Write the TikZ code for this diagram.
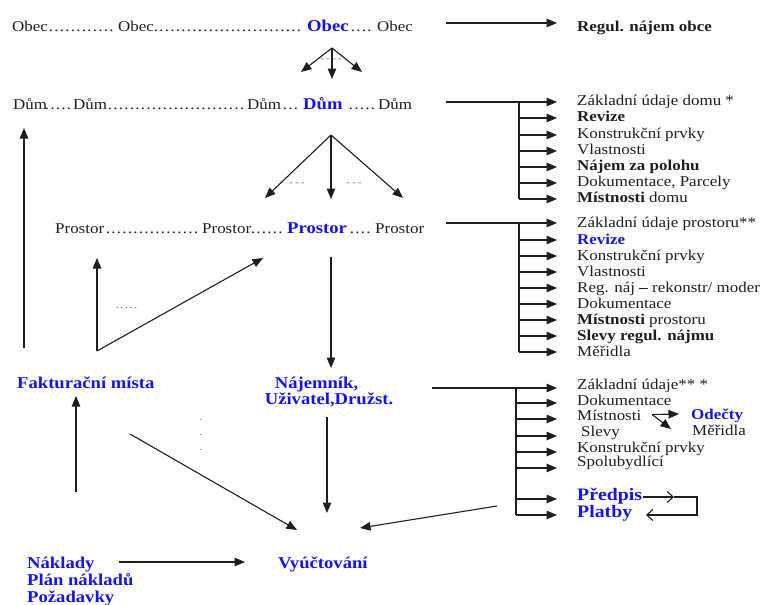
\documentclass[tikz,border=0pt]{standalone}
\usepackage{fontspec}
\setmainfont{Liberation Serif}[FakeStretch=1.13]
\usetikzlibrary{arrows.meta}
\definecolor{hlblue}{RGB}{20,20,240}
\definecolor{ink}{RGB}{30,30,30}
% a run of leader dots of a given width
\newcommand\dotrun[2][5.5pt]{\makebox[#2][l]{\leaders\hbox to #1{\hss.\hss}\hfill}}
\begin{document}
\begin{tikzpicture}[x=1pt,y=-1pt,
  lbl/.style={inner sep=0pt, anchor=base west, text=ink, font=\fontsize{15}{16}\selectfont},
  blbl/.style={lbl, font=\fontsize{15}{16}\selectfont\bfseries},
  key/.style={inner sep=0pt, anchor=base west, text=hlblue, font=\fontsize{16.5}{18}\selectfont\bfseries},
  bigkey/.style={key, font=\fontsize{17.5}{19}\selectfont\bfseries},
  smallkey/.style={key, font=\fontsize{15}{16}\selectfont\bfseries},
  tiny/.style={inner sep=0pt, text=ink!70, font=\fontsize{9}{9}\selectfont},
  link/.style={line width=1.1pt, draw=ink},
  arr/.style={link, -{Triangle[length=10.5pt,width=8.5pt]}},
  barb/.style={link, -{Straight Barb[length=6pt,width=11pt]}},
]
\useasboundingbox (0,0) rectangle (764,605);

% ---------- row: Obec ----------
\node[lbl] (o1) at (12,31) {Obec};
\node[lbl] (o1d) at (48,31) {\dotrun{70pt}};
\node[lbl] (o2) at (118,31) {Obec};
\node[lbl] (o2d) at (153,31) {\dotrun{153pt}};
\node[key] (o3) at (307,31) {Obec};
\node[lbl] (o3d) at (350,31) {\dotrun{24pt}};
\node[lbl] (o4) at (377,31) {Obec};
\node[blbl] (regul) at (577,31) {Regul. nájem obce};
\coordinate (r0) at (446,23);
\coordinate (r1) at (557,23);
\draw[arr] (r0) -- (r1);

% fan from Obec down to Dům
\coordinate (ofan) at (332,48);
\coordinate (ofl) at (301,72);
\coordinate (ofm) at (332,79);
\coordinate (ofr) at (362,72);
\draw[arr] (ofan) -- (ofl);
\draw[arr] (ofan) -- (ofm);
\draw[arr] (ofan) -- (ofr);
\node[tiny] (ofdash) at (331,60) {- - - -};

% ---------- row: Dům ----------
\node[lbl] (d1) at (13,109) {Dům};
\node[lbl] (d1d) at (44,109) {\dotrun{28pt}};
\node[lbl] (d2) at (73,109) {Dům};
\node[lbl] (d2d) at (107,109) {\dotrun{139pt}};
\node[lbl] (d3) at (247,109) {Dům};
\node[lbl] (d3d) at (282,109) {\dotrun{21pt}};
\node[key] (d4) at (303,109) {Dům};
\node[lbl] (d4d) at (348,109) {\dotrun{29pt}};
\node[lbl] (d5) at (378,109) {Dům};

% house attributes
\coordinate (h0) at (446,102);
\coordinate (hb) at (519,102);
\coordinate (hbe) at (519,199);
\draw[link] (hb) -- (hbe);
\draw[arr] (h0) -- (557,102);
\foreach \yy in {118,135,151,167,183,199}
  \draw[arr] (519,\yy) -- (557,\yy);
\node[lbl]  (h1) at (577,105.5) {Základní údaje domu *};
\node[blbl] (h2) at (577,121.5) {Revize};
\node[lbl]  (h3) at (577,138.5) {Konstrukční prvky};
\node[lbl]  (h4) at (577,154.5) {Vlastnosti};
\node[blbl] (h5) at (577,170.5) {Nájem za polohu};
\node[lbl]  (h6) at (577,186.5) {Dokumentace, Parcely};
\node[lbl]  (h7) at (577,202.5) {\textbf{Místnosti} domu};

% fan from Dům down to Prostor
\coordinate (dfan) at (331,135);
\coordinate (dfl) at (265,198);
\coordinate (dfm) at (331,199);
\coordinate (dfr) at (403,198);
\draw[arr] (dfan) -- (dfl);
\draw[arr] (dfan) -- (dfm);
\draw[arr] (dfan) -- (dfr);
\node[tiny] (dfd1) at (297,184) {- - -};
\node[tiny] (dfd2) at (354,184) {- - -};

% long return arrow on the left
\coordinate (lr0) at (24,348);
\coordinate (lr1) at (24,128);
\draw[arr] (lr0) -- (lr1);

% ---------- row: Prostor ----------
\node[lbl] (p1) at (55,233) {Prostor};
\node[lbl] (p1d) at (105,233) {\dotrun{96pt}};
\node[lbl] (p2) at (202,233) {Prostor};
\node[lbl] (p2d) at (250,233) {\dotrun{36pt}};
\node[key] (p3) at (287,233) {Prostor};
\node[lbl] (p3d) at (349,233) {\dotrun{25pt}};
\node[lbl] (p4) at (375,233) {Prostor};

% space attributes
\coordinate (s0) at (446,223);
\coordinate (sb) at (519,223);
\coordinate (sbe) at (519,352);
\draw[link] (sb) -- (sbe);
\draw[arr] (s0) -- (557,223);
\foreach \yy in {240,256,272,288,304,320,336,352}
  \draw[arr] (519,\yy) -- (557,\yy);
\node[lbl]      (s1) at (577,227) {Základní údaje prostoru**};
\node[smallkey] (s2) at (577,244) {Revize};
\node[lbl]      (s3) at (577,260) {Konstrukční prvky};
\node[lbl]      (s4) at (577,276) {Vlastnosti};
\node[lbl]      (s5) at (577,292) {Reg. náj \textbf{–} rekonstr/ moder};
\node[lbl]      (s6) at (577,308) {Dokumentace};
\node[lbl]      (s7) at (577,324) {\textbf{Místnosti} prostoru};
\node[blbl]     (s8) at (577,340) {Slevy regul. nájmu};
\node[lbl]      (s9) at (577,356) {Měřidla};

% billing-point loop under Prostor
\coordinate (pv) at (97,351);
\coordinate (pvu) at (97,258);
\coordinate (pvr) at (263,258);
\draw[arr] (pv) -- (pvu);
\draw[arr] (pv) -- (pvr);
\node[lbl, font=\fontsize{10}{10}\selectfont, text=ink!75] (pvd) at (115,308) {\dotrun[4.6pt]{23pt}};

% Prostor down to tenant
\coordinate (pd0) at (331,257);
\coordinate (pd1) at (331,368);
\draw[arr] (pd0) -- (pd1);

% ---------- row: tenant ----------
\node[key] (fak) at (17,388) {Fakturační místa};
\node[key, anchor=base] (naj1) at (316.5,388) {Nájemník,};
\node[key, anchor=base] (naj2) at (329,404) {Uživatel,Družst.};

% tenant attributes
\coordinate (t0) at (432,388);
\coordinate (tb) at (516,388);
\coordinate (tbe) at (516,515);
\draw[link] (tb) -- (tbe);
\draw[arr] (t0) -- (557,388);
\foreach \yy in {403,419,436,452,468,499,515}
  \draw[arr] (516,\yy) -- (557,\yy);
\node[lbl] (t1) at (577,389.5) {Základní údaje** *};
\node[lbl] (t2) at (577,405) {Dokumentace};
\node[lbl] (t3) at (577,420.5) {Místnosti};
\node[lbl] (t4) at (581,436.5) {Slevy};
\node[lbl] (t5) at (577,452.5) {Konstrukční prvky};
\node[lbl] (t6) at (577,466.5) {Spolubydlící};
\node[bigkey] (pred) at (577,500) {Předpis};
\node[bigkey] (plat) at (577,517) {Platby};
\node[smallkey] (ode) at (691,419) {Odečty};
\node[lbl] (mer) at (692,435.5) {Měřidla};

% rooms split into readings and meters
\coordinate (m0) at (652,414.5);
\coordinate (m1) at (679,414);
\coordinate (m2) at (671,429);
\draw[arr] (m0) -- (m1);
\draw[arr] (m0) -- (m2);

% prescription / payment loop
\coordinate (q0) at (643,497);
\coordinate (q1) at (674,497);
\coordinate (q2) at (697,497);
\coordinate (q3) at (697,515);
\coordinate (q4) at (646,515);
\draw[barb] (q0) -- (q1);
\draw[link] (q1) -- (q2) -- (q3) -- (652,515);
\draw[barb] (q3) -- (q4);

% ---------- bottom: costs and settlement ----------
\coordinate (fu0) at (76,492);
\coordinate (fu1) at (76,396);
\draw[arr] (fu0) -- (fu1);
\coordinate (fd0) at (130,434);
\coordinate (fd1) at (297,530);
\draw[arr] (fd0) -- (fd1);
\node[tiny, align=center, font=\fontsize{10}{15}\selectfont] (vdots) at (201,435) {.\\.\\.};
\coordinate (nd0) at (327,417);
\coordinate (nd1) at (327,513);
\draw[arr] (nd0) -- (nd1);
\coordinate (rd0) at (497,506);
\coordinate (rd1) at (360,528);
\draw[arr] (rd0) -- (rd1);

\node[key] (nak1) at (27,568) {Náklady};
\node[key] (nak2) at (27,585) {Plán nákladů};
\node[key] (nak3) at (27,602) {Požadavky};
\node[key] (vyu) at (278,568) {Vyúčtování};
\coordinate (na0) at (119,562);
\coordinate (na1) at (245,562);
\draw[arr] (na0) -- (na1);
\end{tikzpicture}
\end{document}
